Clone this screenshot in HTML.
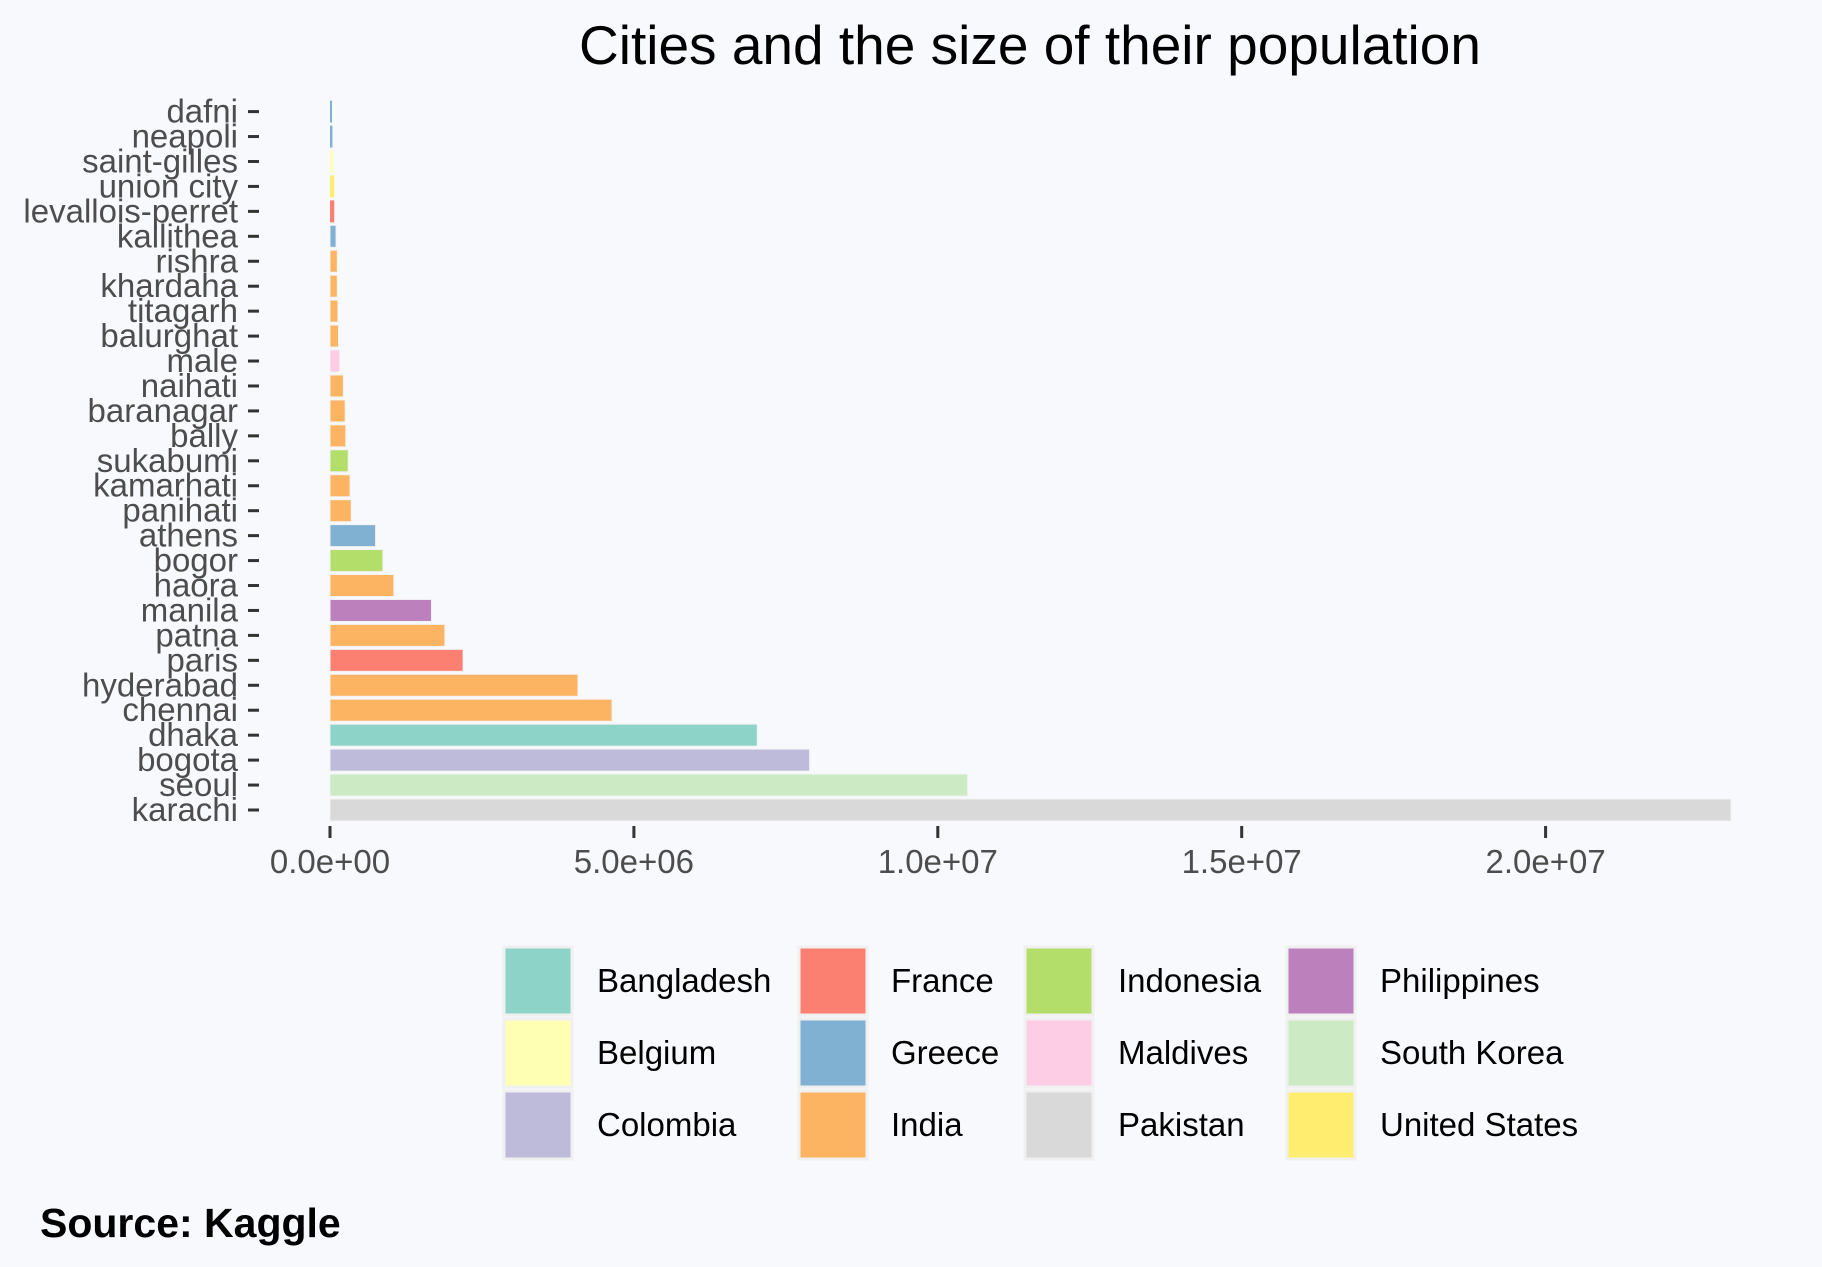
<!DOCTYPE html>
<html><head><meta charset="utf-8"><style>
html,body{margin:0;padding:0;background:#f8f9fd;}
svg{display:block;font-family:"Liberation Sans",sans-serif;}
</style></head><body>
<svg id="chart" width="1822" height="1267" viewBox="0 0 1822 1267">
<rect x="0" y="0" width="1822" height="1267" fill="#f8f9fd"/>
<text x="1030" y="64" font-size="55" text-anchor="middle" fill="#000">Cities and the size of their population</text>
<g id="bars"></g>
<g id="yaxis"></g>
<g id="xaxis"></g>
<g id="legend"></g>
<text x="40" y="1237" font-size="41" font-weight="bold" fill="#000">Source: Kaggle</text>
</svg>
<script>
const cities = ["dafni","neapoli","saint-gilles","union city","levallois-perret","kallithea","rishra","khardaha","titagarh","balurghat","male","naihati","baranagar","bally","sukabumi","kamarhati","panihati","athens","bogor","haora","manila","patna","paris","hyderabad","chennai","dhaka","bogota","seoul","karachi"];
const populations = [30000,40000,50000,70000,70000,100000,120000,120000,130000,140000,160000,220000,250000,260000,300000,330000,350000,750000,870000,1050000,1670000,1890000,2190000,4080000,4640000,7030000,7890000,10490000,23050000];
const countries = ["Greece","Greece","Belgium","United States","France","Greece","India","India","India","India","Maldives","India","India","India","Indonesia","India","India","Greece","Indonesia","India","Philippines","India","France","India","India","Bangladesh","Colombia","South Korea","Pakistan"];
const legendCountries = ["Bangladesh","Belgium","Colombia","France","Greece","India","Indonesia","Maldives","Pakistan","Philippines","South Korea","United States"];
const legendColors = ["#8dd3c7","#ffffb3","#bebada","#fb8072","#80b1d3","#fdb462","#b3de69","#fccde5","#d9d9d9","#bc80bd","#ccebc5","#ffed6f"];
const xTicks = [0,5000000,10000000,15000000,20000000];
const xTickLabels = ["0.0e+00","5.0e+06","1.0e+07","1.5e+07","2.0e+07"];

const NS="http://www.w3.org/2000/svg";
const x0=330, pxPer=607.8/1e7;
function xs(v){return x0+v*pxPer;}
const yTop=111.6, yBot=810;
function ys(i){return yTop+i*(yBot-yTop)/(cities.length-1);}
function colorOf(c){return legendColors[legendCountries.indexOf(c)];}
function mk(tag,attrs,parent){const e=document.createElementNS(NS,tag);for(const k in attrs)e.setAttribute(k,attrs[k]);parent.appendChild(e);return e;}

const gb=document.getElementById('bars'), gy=document.getElementById('yaxis'), gx=document.getElementById('xaxis'), gl=document.getElementById('legend');
const bh=22;
cities.forEach((c,i)=>{
  const y=ys(i);
  const w=Math.max(2,xs(populations[i])-xs(0));
  const r=mk('rect',{x:xs(0),y:y-bh/2,width:w,height:bh,fill:colorOf(countries[i]),stroke:w>6?'#f2f2f2':'none','stroke-width':1},gb);
  
  
  const t=mk('text',{x:238,y:y+11,'font-size':33,'text-anchor':'end',fill:'#4d4d4d'},gy);
  t.textContent=c;
  
  
  const tk=mk('line',{x1:248,x2:259,y1:y,y2:y,stroke:'#333','stroke-width':3},gy);
  
  
});
xTicks.forEach((v,i)=>{
  const x=xs(v);
  const tk=mk('line',{x1:x,x2:x,y1:826,y2:838,stroke:'#333','stroke-width':3},gx);
  
  
  const t=mk('text',{x:x,y:873,'font-size':33,'text-anchor':'middle',fill:'#4d4d4d'},gx);
  t.textContent=xTickLabels[i];
  
  
});
const colX=[504,799,1025,1287], labX=[597,891,1118,1380], rowY=[947,1019,1091];
legendCountries.forEach((c,i)=>{
  const col=Math.floor(i/3), row=i%3;
  const g=mk('g',{},gl);
  
  
  mk('rect',{x:colX[col],y:rowY[row],width:68,height:68,fill:legendColors[i],stroke:'#f0f0f0','stroke-width':3},g);
  const t=mk('text',{x:labX[col],y:rowY[row]+45,'font-size':33,fill:'#000'},g);
  t.textContent=c;
});
</script>
</body></html>
